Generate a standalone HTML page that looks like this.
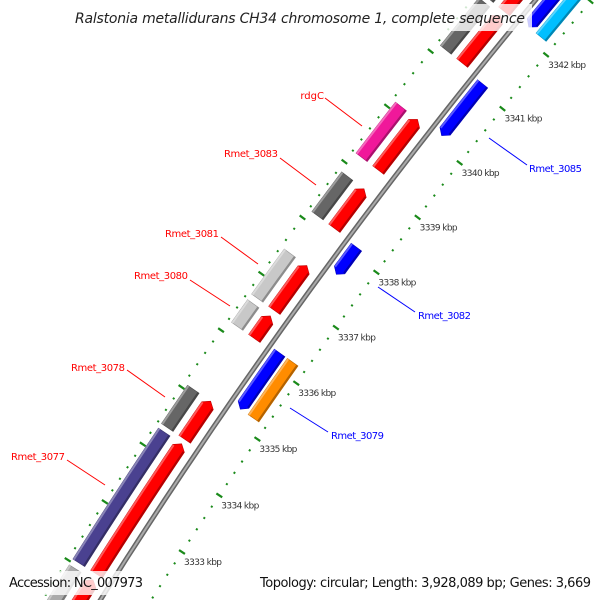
<!DOCTYPE html>
<html><head><meta charset="utf-8"><style>
html,body{margin:0;background:#fff;width:600px;height:600px;overflow:hidden}
svg{display:block}
text{font-family:"DejaVu Sans","Liberation Sans",sans-serif}
</style></head><body>
<svg id="map" width="600" height="600" viewBox="0 0 600 600" xmlns="http://www.w3.org/2000/svg" overflow="hidden">
<g id="ticks"></g>
<g id="feats"></g>
<g id="labels">
 <line x1="325" y1="98" x2="362" y2="126" stroke="#ff0000"/>
 <text x="324" y="99" text-anchor="end" font-size="10" fill="#ff0000">rdgC</text>
 <line x1="280" y1="158" x2="316" y2="185" stroke="#ff0000"/>
 <text x="278" y="157" text-anchor="end" font-size="10" textLength="54" fill="#ff0000">Rmet_3083</text>
 <line x1="221" y1="237" x2="258" y2="264" stroke="#ff0000"/>
 <text x="219" y="237" text-anchor="end" font-size="10" textLength="54" fill="#ff0000">Rmet_3081</text>
 <line x1="190" y1="280" x2="230" y2="306" stroke="#ff0000"/>
 <text x="188" y="279" text-anchor="end" font-size="10" textLength="54" fill="#ff0000">Rmet_3080</text>
 <line x1="127" y1="370" x2="165" y2="397" stroke="#ff0000"/>
 <text x="125" y="371" text-anchor="end" font-size="10" textLength="54" fill="#ff0000">Rmet_3078</text>
 <line x1="67" y1="460" x2="105" y2="485" stroke="#ff0000"/>
 <text x="65" y="460" text-anchor="end" font-size="10" textLength="54" fill="#ff0000">Rmet_3077</text>
 <line x1="378" y1="287" x2="415" y2="312" stroke="#0000ff"/>
 <text x="418" y="319" font-size="10" textLength="53" fill="#0000ff">Rmet_3082</text>
 <line x1="290" y1="408" x2="328" y2="432" stroke="#0000ff"/>
 <text x="331" y="439" font-size="10" textLength="53" fill="#0000ff">Rmet_3079</text>
 <line x1="489" y1="138" x2="527" y2="165" stroke="#0000ff"/>
 <text x="529" y="172" font-size="10" textLength="53" fill="#0000ff">Rmet_3085</text>
</g>
<rect x="70" y="4" width="462" height="27" fill="#fff" fill-opacity="0.8"/>
<text x="300" y="23" text-anchor="middle" font-size="14" font-style="italic" textLength="450" fill="#222">Ralstonia metallidurans CH34 chromosome 1, complete sequence</text>
<rect x="4" y="571" width="145" height="24" fill="#fff" fill-opacity="0.8"/>
<text x="9" y="587" font-size="13" textLength="134" fill="#111">Accession: NC_007973</text>
<rect x="255" y="571" width="341" height="24" fill="#fff" fill-opacity="0.8"/>
<text x="591" y="587" text-anchor="end" font-size="13" textLength="331" fill="#111">Topology: circular; Length: 3,928,089 bp; Genes: 3,669</text>
</svg>
<script>
const featNames=["f0","Rmet_3077","Rmet_3078","Rmet_3080","Rmet_3081","Rmet_3083","rdgC","f9","f10","Rmet_3079","Rmet_3082","Rmet_3085","r4"];
const featStart=[3330.9,3332.05,3334.4,3336.18,3336.68,3338.15,3339.2,3341.15,3342.1,3335.22,3337.63,3340.15,3342.15];
const featEnd=[3331.95,3334.32,3335.07,3336.58,3337.48,3338.86,3340.12,3342.02,3343.5,3336.22,3338.12,3341.1,3343.5];
const featStrand=[1,1,1,1,1,1,1,1,1,-1,-1,-1,-1];
const featCog=["#aaaaaa","#4a4190","#666666","#c8c8c8","#c8c8c8","#666666","#f0189a","#666666","#666666","#ff8c00","","","#00bfff"];
const tickMajor=[3331,3332,3333,3334,3335,3336,3337,3338,3339,3340,3341,3342,3343];
const tickLabels=["3331 kbp","3332 kbp","3333 kbp","3334 kbp","3335 kbp","3336 kbp","3337 kbp","3338 kbp","3339 kbp","3340 kbp","3341 kbp","3342 kbp",""];
const NS="http://www.w3.org/2000/svg";
const T0=3333;
function pt(k,o){const t=k-T0;const x=182+36.9*t+0.395*t*t,y=552-56.8*t+0.173*t*t;
 const dx=36.9+0.79*t,dy=-56.8+0.346*t,l=Math.hypot(dx,dy);return [x+o*dy/l,y-o*dx/l];}
function mk(tag,attrs,parent){const e=document.createElementNS(NS,tag);for(const a in attrs)e.setAttribute(a,attrs[a]);parent.appendChild(e);return e;}
const tk=document.getElementById('ticks'),fg=document.getElementById('feats');
function seg(k,o1,o2,w,parent){const a=pt(k,o1),b=pt(k,o2);return mk('line',{x1:a[0],y1:a[1],x2:b[0],y2:b[1],stroke:'#1a8a1a','stroke-width':w},parent);}
[0,92].forEach((ring,ri)=>{
 for(let i=0;i<tickMajor.length;i++){
  const k=tickMajor[i];
  const m=seg(k,ring-3.5,ring+3.5,2.2,tk);
  
  
  for(let j=1;j<5;j++){const d=seg(k+j*0.2,ring-1,ring+1,2,tk);
   
   }
  if(ri===0&&tickLabels[i]){const p=pt(k,0);const tx=mk('text',{x:p[0]+2,y:p[1]+13,'font-size':9,fill:'#333',textLength:38},tk);tx.textContent=tickLabels[i];
   
   }
 }
});
let bb='';for(let k=3330;k<=3344;k+=0.25){const p=pt(k,43);bb+=(bb?'L':'M')+p[0].toFixed(1)+','+p[1].toFixed(1);}
const b1=mk('path',{d:bb,stroke:'#666',fill:'none','stroke-width':5},fg);


const b2=mk('path',{d:bb,stroke:'#aaa',fill:'none','stroke-width':2},fg);


function shade(c,f){const n=parseInt(c.slice(1),16);let r=n>>16,g=(n>>8)&255,b=n&255;
 if(f>0){r+=(255-r)*f;g+=(255-g)*f;b+=(255-b)*f;}else{r*=1+f;g*=1+f;b*=1+f;}
 return 'rgb('+[r,g,b].map(v=>Math.round(v)).join(',')+')';}
function bar(k1,k2,o,w,col,arrow,name){
 const ah=0.08,pts=[];const a1=arrow<0?k1+ah:k1,a2=arrow>0?k2-ah:k2;
 const N=8;
 for(let i=0;i<=N;i++)pts.push(pt(a1+(a2-a1)*i/N,o+w/2));
 if(arrow>0)pts.push(pt(k2,o));
 for(let i=N;i>=0;i--)pts.push(pt(a1+(a2-a1)*i/N,o-w/2));
 if(arrow<0)pts.push(pt(k1,o));
 const g=mk('g',{},fg);
 
 
 mk('polygon',{points:pts.map(p=>p.join(',')).join(' '),fill:col,stroke:shade(col,-0.25),'stroke-width':0.6},g);
 const hl=[],dk=[];
 for(let i=0;i<=N;i++){const k=a1+(a2-a1)*i/N;hl.push(pt(k,o+w/2-1));}
 for(let i=0;i<=N;i++){const k=a1+(a2-a1)*i/N;dk.push(pt(k,o-w/2+1));}
 mk('polyline',{points:hl.map(p=>p.join(',')).join(' '),stroke:shade(col,0.35),'stroke-width':2,fill:'none'},g);
 mk('polyline',{points:dk.map(p=>p.join(',')).join(' '),stroke:shade(col,-0.3),'stroke-width':2,fill:'none'},g);
}
for(let i=0;i<featNames.length;i++){
 const s=featStrand[i];
 if(s>0){bar(featStart[i],featEnd[i],60,14,'#ff0000',1,'gene-'+featNames[i]);
  if(featCog[i])bar(featStart[i],featEnd[i],81,14,featCog[i],0,'cog-'+featNames[i]);}
 else{bar(featStart[i],featEnd[i],31,13,'#0000ff',-1,'gene-'+featNames[i]);
  if(featCog[i])bar(featStart[i],featEnd[i],15,13,featCog[i],0,'cog-'+featNames[i]);}
}
</script>
</body></html>
